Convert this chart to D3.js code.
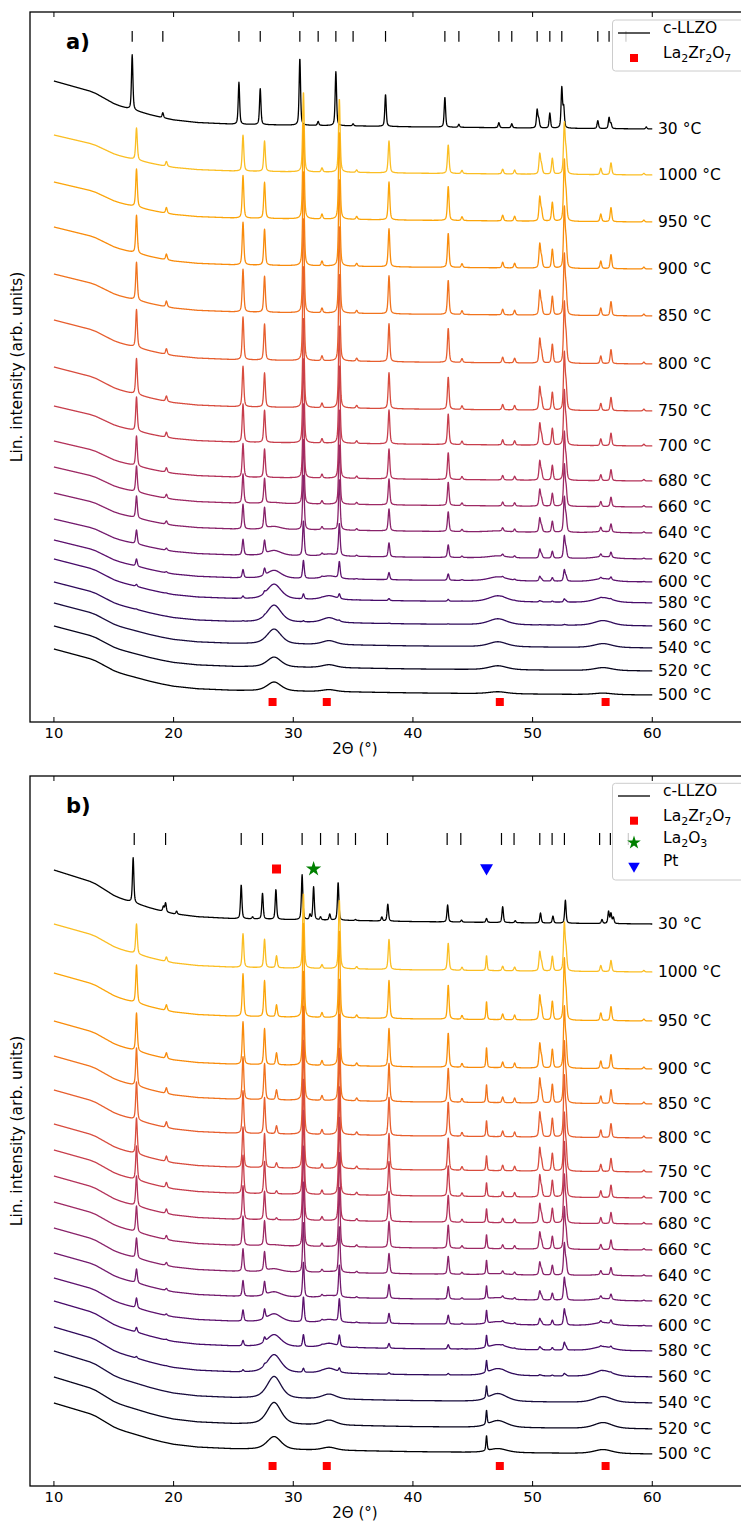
<!DOCTYPE html>
<html>
<head>
<meta charset="utf-8">
<script src="https://cdn.jsdelivr.net/npm/d3@7"></script>
<style>
body { margin: 0; background: #fff; }
text { font-family: "DejaVu Sans", sans-serif; }
</style>
</head>
<body>
<div id="fig"></div>
<script>
var W = 741, H = 1523;

var temps = ["30 °C", "1000 °C", "950 °C", "900 °C", "850 °C", "800 °C", "750 °C", "700 °C", "680 °C",
             "660 °C", "640 °C", "620 °C", "600 °C", "580 °C", "560 °C", "540 °C", "520 °C", "500 °C"];

// vertical offset of each trace (arb. units, end of trace at 60°)
var aOff = [593, 547, 500, 453, 406, 358, 311, 276, 241, 215, 189, 163, 140, 119, 96, 74, 51, 27];
var bOff = [562, 514, 465, 417, 382, 348, 314, 288, 262, 236, 210, 185, 160, 135, 109, 83, 57, 32];

// background (low-angle scatter) amplitude per trace
var aBg = [48, 40, 40, 42, 42, 44, 44, 40, 40, 40, 40, 40, 42, 44, 44, 45, 45, 46];
var bBg = [54, 48, 48, 48, 48, 48, 48, 48, 48, 48, 48, 48, 48, 50, 50, 52, 52, 51];
var bgX = [10, 11, 12, 13, 13.5, 14, 14.5, 15, 15.5, 16, 17, 18, 19, 20, 22, 25, 30, 35, 40, 50, 60];
var bgY = [1, 0.93, 0.86, 0.79, 0.74, 0.67, 0.6, 0.53, 0.48, 0.44, 0.37, 0.3, 0.24, 0.19, 0.135,
           0.1, 0.08, 0.065, 0.045, 0.02, 0];

// c-LLZO peaks of the annealed films (relative heights)
var llzoPos = [16.9, 19.4, 25.8, 27.6, 30.85, 32.4, 33.85, 35.3, 38.0, 42.95, 44.1, 47.5, 48.5,
               50.6, 50.75, 51.65, 52.65, 52.8, 55.7, 56.55, 59.3];
var llzoRel = [40, 6, 45, 38, 100, 5, 92, 3, 40, 36, 4, 6, 5, 25, 10, 20, 62, 25, 8, 15, 2];
var aScale = [0, 80, 95, 95, 95, 95, 90, 85, 75, 65, 55, 35, 18, 5, 1, 0, 0, 0];
var bScale = [0, 75, 95, 95, 95, 95, 90, 85, 75, 65, 50, 35, 25, 12, 4, 0, 0, 0];

// 30 °C powders
var a30Pos = [16.54, 19.1, 25.46, 27.24, 30.55, 32.08, 33.56, 35.0, 37.71, 42.67, 43.84, 47.18, 48.26,
              50.38, 50.52, 51.44, 52.44, 52.6, 55.45, 56.39, 56.55, 59.5];
var a30Int = [55, 5, 42, 36, 67, 4, 54, 2, 32, 30, 3, 5, 4, 18, 8, 15, 40, 20, 8, 11, 5, 2];
var b30Pos = [16.62, 19.15, 19.33, 20.25, 25.65, 26.6, 27.43, 28.55, 30.74, 31.4, 31.7, 32.28, 33.05,
              33.75, 35.2, 37.4, 37.9, 42.9, 44.06, 46.15, 47.5, 48.55, 50.66, 51.7, 52.74, 55.8,
              56.35, 56.55, 56.75];
var b30Int = [45, 5, 9, 3, 34, 2, 26, 30, 45, 5, 33, 3, 6, 38, 1, 4, 17, 17, 2, 4, 16, 2, 10, 7, 23, 4,
              12, 10, 6];

// broad La2Zr2O7 humps
var lzoPos = [28.4, 33.0, 47.1, 55.9];
var lzoW = [0.7, 0.7, 0.9, 0.9];
var aL28 = [0, 0, 0, 0, 0, 0, 0, 0, 0, 1, 3, 5, 8, 15, 17, 15, 10, 9];
var aL33 = [0, 0, 0, 0, 0, 0, 0, 0, 0, 0, 1, 2, 3, 4, 5, 4, 3, 2];
var aL47 = [0, 0, 0, 0, 0, 0, 0, 0, 0, 0, 1, 2, 4, 6, 6, 5, 4, 2];
var aL56 = [0, 0, 0, 0, 0, 0, 0, 0, 0, 0, 1, 2, 3, 5, 5, 4, 3, 1.5];
var bL28 = [0, 0, 0, 0, 0, 0, 0, 0, 0, 1, 3, 5, 8, 12, 18, 22, 22, 13];
var bL33 = [0, 0, 0, 0, 0, 0, 0, 0, 0, 0, 1, 2, 3, 4, 5, 5, 5, 3];
var bL47 = [0, 0, 0, 0, 0, 0, 0, 0, 0, 0, 1, 2, 3, 5, 7, 8, 7, 4];
var bL56 = [0, 0, 0, 0, 0, 0, 0, 0, 0, 0, 1, 2, 3, 4, 6, 6, 6, 4];

// panel b extra phases
var bLzoSharp = [0, 12, 12, 12, 10, 8, 5, 3, 2, 0, 0, 0, 0, 0, 0, 0, 0, 0];
var bPt = [0, 15, 18, 20, 18, 16, 15, 14, 14, 14, 14, 13, 13, 12, 12, 12, 14, 15];

// reference tick marks and phase markers
var refA = [16.54, 19.1, 25.46, 27.24, 30.55, 32.08, 33.56, 35.0, 37.71, 42.67, 43.84, 47.18, 48.26,
            50.38, 51.44, 52.44, 55.45, 56.39, 57.8];
var refB = [16.71, 19.33, 25.65, 27.43, 30.74, 32.28, 33.75, 35.2, 37.87, 42.86, 44.0, 47.4, 48.45,
            50.6, 51.63, 52.66, 55.6, 56.5, 58.0];
var lzoMark = [28.27, 32.8, 47.26, 56.1];
var xTicks = [10, 20, 30, 40, 50, 60];

var svg = d3.select("#fig").append("svg")
    .attr("width", W)
    .attr("height", H);

var x = d3.scaleLinear().domain([8, 68]).range([30, 748]);
var bgShape = d3.scaleLinear().domain(bgX).range(bgY);
var grid = d3.range(10, 60.0001, 0.02);

function pv(t, x0, h, w) {
    var d = (t - x0) / w;
    return h * (0.5 / (1 + d * d) + 0.5 * Math.exp(-0.693 * d * d));
}

function color(i) {
    if (i === 0) return "#000";
    return d3.interpolateInferno((17 - i) / 16 * 0.85);
}

function subText(sel, parts) {
    // parts: [text, isSub, afterSub]
    parts.forEach(function(p) {
        sel.append("tspan")
            .attr("font-size", p[1] ? 11 : 15.5)
            .attr("dy", p[1] ? 4 : (p[2] ? -4 : 0))
            .text(p[0]);
    });
}

function marker(g, type, cx, cy, s) {
    if (type === "square") {
        g.append("rect").attr("x", cx - s / 2).attr("y", cy - s / 2)
            .attr("width", s).attr("height", s).attr("fill", "red");
    } else if (type === "star") {
        g.append("path").attr("d", d3.symbol().type(d3.symbolStar).size(s * s * 0.9)())
            .attr("transform", "translate(" + cx + "," + cy + ")").attr("fill", "green");
    } else {
        g.append("path").attr("d", d3.symbol().type(d3.symbolTriangle).size(s * s * 0.9)())
            .attr("transform", "translate(" + cx + "," + cy + ") rotate(180)").attr("fill", "blue");
    }
}

function drawPanel(p) {
    var g = svg.append("g");
    var y = d3.scaleLinear().domain([0, 710]).range([p.bottom, p.top]);

    var line = d3.line()
        .x(function(d) { return x(d[0]); })
        .y(function(d) { return y(d[1]); });

    temps.forEach(function(t, i) {
        var pts = grid.map(function(tt) {
            var v = p.off[i] + p.bg[i] * bgShape(tt);
            if (i === 0) {
                p.pos30.forEach(function(x0, k) { v += pv(tt, x0, p.int30[k], 0.07); });
            } else {
                llzoPos.forEach(function(x0, k) { v += pv(tt, x0, llzoRel[k] / 100 * p.scale[i], 0.08); });
            }
            v += pv(tt, lzoPos[0], p.l28[i], lzoW[0]);
            v += pv(tt, lzoPos[1], p.l33[i], lzoW[1]);
            v += pv(tt, lzoPos[2], p.l47[i], lzoW[2]);
            v += pv(tt, lzoPos[3], p.l56[i], lzoW[3]);
            if (p.pt) {
                v += pv(tt, 46.15, p.pt[i], 0.06);
                v += pv(tt, 28.6, p.sharp[i], 0.08);
            }
            return [tt, v];
        });
        g.append("path")
            .datum(pts)
            .attr("d", line)
            .attr("fill", "none")
            .attr("stroke", color(i))
            .attr("stroke-width", 1.3)
            .attr("stroke-linejoin", "round");

        g.append("text")
            .attr("x", 658)
            .attr("y", y(p.off[i]))
            .attr("dy", "0.35em")
            .attr("font-size", 15.5)
            .text(t);
    });

    // reference ticks
    g.selectAll(".ref")
        .data(p.ref)
        .enter()
        .append("line")
        .attr("x1", function(d) { return x(d); })
        .attr("x2", function(d) { return x(d); })
        .attr("y1", y(p.refY[0]))
        .attr("y2", y(p.refY[1]))
        .attr("stroke", "black")
        .attr("stroke-width", 1.2);

    lzoMark.forEach(function(d) { marker(g, "square", x(d), y(20), 8); });
    if (p.topMarks) {
        p.topMarks.forEach(function(m) { marker(g, m[0], x(m[1]), y(m[2]), 9); });
    }

    // axes frame
    g.append("rect")
        .attr("x", 30).attr("y", p.top)
        .attr("width", 718).attr("height", p.bottom - p.top)
        .attr("fill", "none").attr("stroke", "black").attr("stroke-width", 1.3);

    g.selectAll(".tb")
        .data(xTicks)
        .enter()
        .append("line")
        .attr("x1", function(d) { return x(d); })
        .attr("x2", function(d) { return x(d); })
        .attr("y1", p.bottom).attr("y2", p.bottom - 5)
        .attr("stroke", "black");
    g.selectAll(".tt")
        .data(xTicks)
        .enter()
        .append("line")
        .attr("x1", function(d) { return x(d); })
        .attr("x2", function(d) { return x(d); })
        .attr("y1", p.top).attr("y2", p.top + 5)
        .attr("stroke", "black");
    g.selectAll(".tl")
        .data(xTicks)
        .enter()
        .append("text")
        .attr("x", function(d) { return x(d); })
        .attr("y", p.bottom + 15.5)
        .attr("text-anchor", "middle")
        .attr("font-size", 14.7)
        .text(function(d) { return d; });

    g.append("text")
        .attr("x", 355).attr("y", p.bottom + 32)
        .attr("text-anchor", "middle").attr("font-size", 15)
        .text("2Θ (°)");

    g.append("text")
        .attr("transform", "translate(22," + (p.top + p.bottom) / 2 + ") rotate(-90)")
        .attr("text-anchor", "middle").attr("font-size", 15.5)
        .text("Lin. intensity (arb. units)");

    g.append("text")
        .attr("x", 66).attr("y", p.top + 37)
        .attr("font-size", 21).attr("font-weight", "bold")
        .text(p.letter);

    // legend
    var lg = g.append("g");
    lg.append("rect")
        .attr("x", 612.5).attr("y", p.top + p.legBox[0])
        .attr("width", 140).attr("height", p.legBox[1] - p.legBox[0])
        .attr("rx", 3)
        .attr("fill", "white").attr("fill-opacity", 0.8)
        .attr("stroke", "#cccccc");
    p.legend.forEach(function(e, k) {
        var cy = p.top + p.legRows[k];
        if (e.type === "line") {
            lg.append("line").attr("x1", 618).attr("x2", 650).attr("y1", cy).attr("y2", cy)
                .attr("stroke", "black").attr("stroke-width", 1.3);
        } else {
            marker(lg, e.type, 634, cy, 8);
        }
        var tx = lg.append("text").attr("x", 663).attr("y", cy).attr("dy", "0.35em").attr("font-size", 15.5);
        subText(tx, e.parts);
    });
}

var lzoLabel = [["La", 0], ["2", 1], ["Zr", 0, 1], ["2", 1], ["O", 0, 1], ["7", 1]];

drawPanel({
    top: 12, bottom: 722, letter: "a)",
    off: aOff, bg: aBg, scale: aScale,
    pos30: a30Pos, int30: a30Int,
    l28: aL28, l33: aL33, l47: aL47, l56: aL56,
    ref: refA, refY: [691, 680.3],
    legBox: [8, 59], legRows: [21, 46],
    legend: [
        { type: "line", parts: [["c-LLZO", 0]] },
        { type: "square", parts: lzoLabel }
    ]
});

drawPanel({
    top: 776, bottom: 1486, letter: "b)",
    off: bOff, bg: bBg, scale: bScale,
    pos30: b30Pos, int30: b30Int,
    l28: bL28, l33: bL33, l47: bL47, l56: bL56,
    pt: bPt, sharp: bLzoSharp,
    ref: refB, refY: [653, 641],
    topMarks: [["square", 28.6, 617], ["star", 31.7, 617], ["tri", 46.15, 618]],
    legBox: [7.3, 104], legRows: [20, 44.7, 66.7, 90],
    legend: [
        { type: "line", parts: [["c-LLZO", 0]] },
        { type: "square", parts: lzoLabel },
        { type: "star", parts: [["La", 0], ["2", 1], ["O", 0, 1], ["3", 1]] },
        { type: "tri", parts: [["Pt", 0]] }
    ]
});
</script>
</body>
</html>
